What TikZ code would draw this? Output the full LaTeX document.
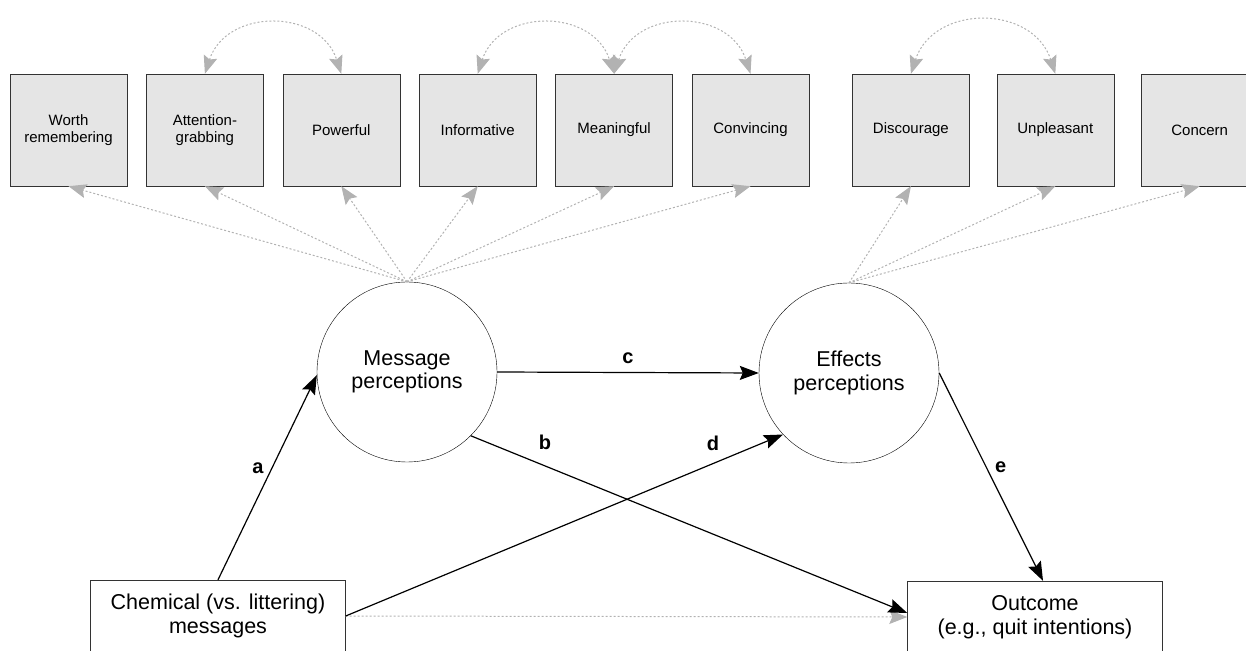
\documentclass[tikz,border=0pt]{standalone}
\usepackage{fontspec}
\setmainfont{Liberation Sans}
\usetikzlibrary{arrows.meta, positioning, calc}

\begin{document}
\begin{tikzpicture}[x=1pt,y=1pt,auto,
                    item node/.style={rectangle,draw=black!80,fill=black!10,minimum width=117pt,minimum height=112pt,text width=108pt,align=center,font=\fontsize{15}{17.5}\selectfont},
                    latent node/.style={circle,draw,minimum size=180pt,inner sep=0pt,align=center,font=\fontsize{21.5}{23.5}\selectfont},
                    obs node/.style={rectangle,draw=black!80,minimum width=255pt,minimum height=72pt,align=center,font=\fontsize{21.5}{23.5}\selectfont},
                    load/.style={black!30,line width=1pt,dash pattern=on 2pt off 2pt,-{Stealth[length=18pt,width=14pt,inset=3pt]}},
                    cov/.style={black!30,line width=1pt,dash pattern=on 2pt off 2pt,{Stealth[length=18pt,width=14pt,inset=3pt]}-{Stealth[length=18pt,width=14pt,inset=3pt]}},
                    effect/.style={black,line width=1.2pt,-{Stealth[length=19pt,width=14pt,inset=3pt]}},
                    coef/.style={black,font=\bfseries\fontsize{20}{24}\selectfont}]
        \useasboundingbox (0,0) rectangle (1246,650);

        % indicators
        \node[item node] (worth) at (68.5,520) {Worth\\remembering};
        \node[item node] (attn) [right=19pt of worth] {Attention-\\grabbing};
        \node[item node] (power) [right=19pt of attn] {Powerful};
        \node[item node] (inform) [right=19pt of power] {Informative};
        \node[item node] (mean) [right=19pt of inform] {Meaningful};
        \node[item node] (convince) [right=19pt of mean] {Convincing};
        \node[item node] (discourage) [right=43pt of convince] {Discourage};
        \node[item node] (unpleasant) [right=27pt of discourage] {Unpleasant};
        \node[item node] (concern) [right=27pt of unpleasant] {Concern};

        % latent factors and observed variables
        \node[latent node] (msg) at (407,278) {Message\\perceptions};
        \node[latent node] (eff) at (849,277) {Effects\\perceptions};
        \node[obs node] (chem) at (218,34) {Chemical (vs. littering)\\messages};
        \node[obs node] (outcome) at (1035,33) {Outcome\\(e.g., quit intentions)};

        \path[load]
        (msg.north) edge (worth.south)
        (msg.north) edge (attn.south)
        (msg.north) edge (power.south)
        (msg.north) edge (inform.south)
        (msg.north) edge (mean.south)
        (msg.north) edge (convince.south)
        (eff.north) edge (discourage.south)
        (eff.north) edge (unpleasant.south)
        (eff.north) edge (concern.south)
        (chem.east) edge (outcome.west);

        % error covariances
        \path[cov]
        (attn.north) edge[out=72,in=108,looseness=1.3] (power.north)
        (inform.north) edge[out=72,in=108,looseness=1.3] (mean.north)
        (mean.north) edge[out=72,in=108,looseness=1.3] (convince.north)
        (discourage.north) edge[out=72,in=108,looseness=1.3] (unpleasant.north);

        \path[effect]
        (chem.north) edge node[coef] {a} (msg.182)
        (msg.east) edge node[coef,above=5pt] {c} (eff.west)
        (msg.-45) edge node[coef,pos=0.17,above=12pt] {b} ([yshift=4pt]outcome.west)
        (chem.east) edge node[coef,pos=0.84,above=9pt] {d} (eff.-137)
        (eff.east) edge node[coef] {e} ([xshift=8pt]outcome.north);
\end{tikzpicture}
\end{document}
